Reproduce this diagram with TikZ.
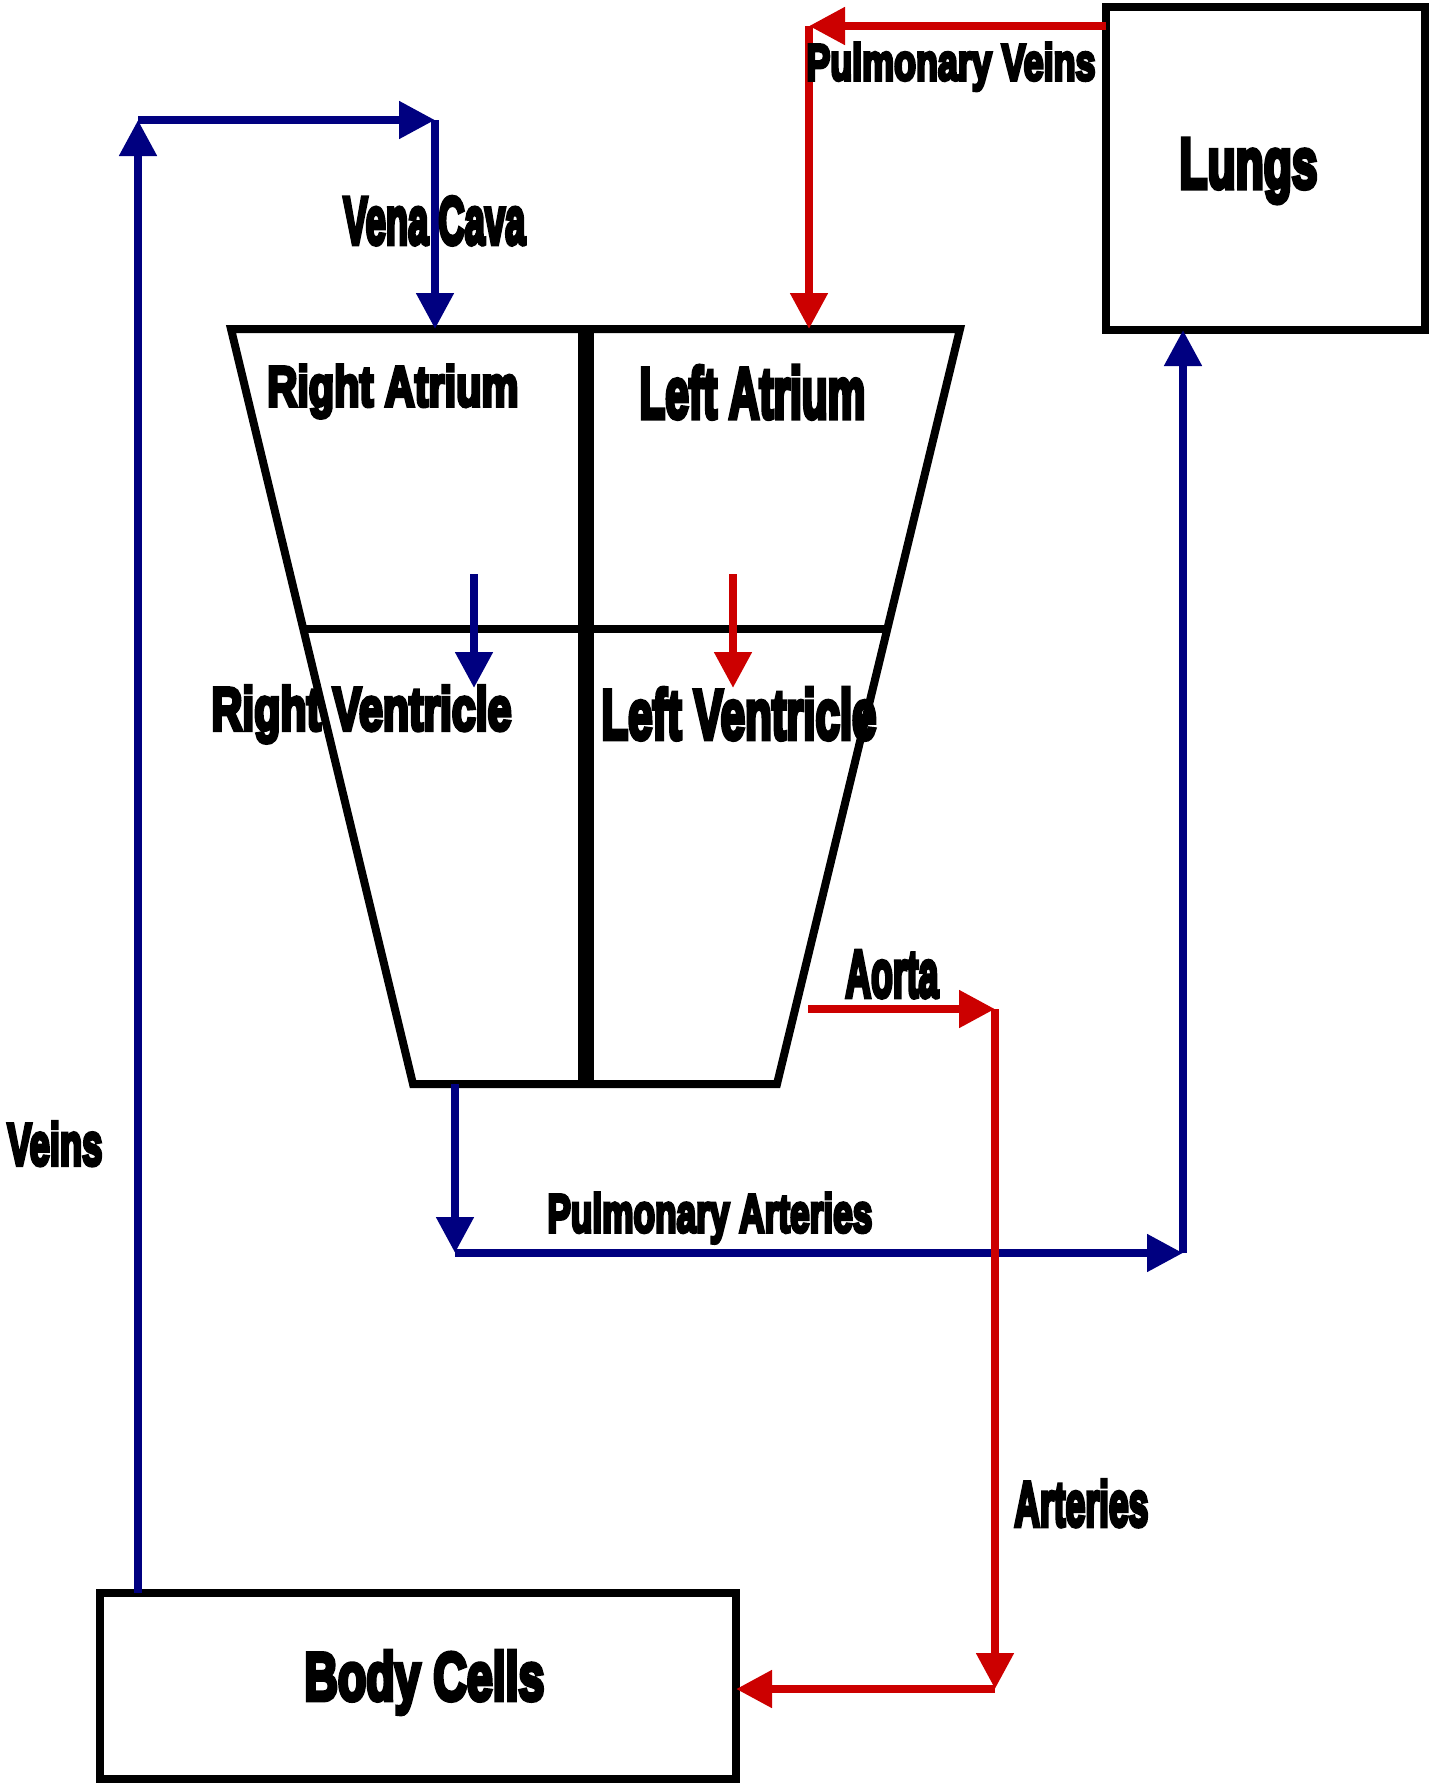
\documentclass[tikz,border=0pt]{standalone}
\usepackage{fontspec}
\setmainfont{Liberation Sans}[BoldFeatures={FakeBold=7}]
\usetikzlibrary{arrows.meta}
\definecolor{navyc}{RGB}{0,0,128}
\definecolor{redc}{RGB}{204,0,0}
\newcommand{\lbl}[3]{\resizebox{#1pt}{#2pt}{\bfseries #3}}
\tikzset{
  conn/.style={line width=4pt, -{Triangle[length=18pt,width=18pt]}},
  blueconn/.style={conn, draw=navyc, fill=navyc},
  redconn/.style={conn, draw=redc, fill=redc},
  box/.style={draw=black, line width=4pt, inner sep=0pt, outer sep=0pt, anchor=north west},
  lab/.style={inner sep=0pt, anchor=base west},
  heart/.style={draw=black, line width=4pt, line join=miter},
}
\begin{document}
\begin{tikzpicture}[x=0.5pt,y=-0.5pt]
\useasboundingbox (0,0) rectangle (1435,1783);
% boxes
\node[box, minimum width=159.5pt, minimum height=161.5pt] (lungs) at (1106,7) {};
\node[box, minimum width=318pt, minimum height=93pt] (body) at (100,1593) {};
% heart
\coordinate (TL) at (231,329);
\coordinate (TR) at (960,329);
\coordinate (BR) at (777,1084);
\coordinate (BL) at (413,1084);
\draw[heart] (TL) -- (TR) -- (BR) -- (BL) -- cycle;
\coordinate (septT) at (586,329);
\coordinate (septB) at (586,1084);
\draw[draw=black, line width=8pt] (septT) -- (septB);
\coordinate (divL) at (304,629);
\coordinate (divR) at (887,629);
\draw[draw=black, line width=4pt] (divL) -- (divR);
% bends
\coordinate (vc1) at (138,120);
\coordinate (vc2) at (435,120);
\coordinate (raT) at (435,329);
\coordinate (pv1) at (809,26);
\coordinate (laT) at (809,329);
\coordinate (rvA) at (474,574);
\coordinate (rvB) at (474,688);
\coordinate (lvA) at (733,574);
\coordinate (lvB) at (733,688);
\coordinate (ao0) at (808,1009);
\coordinate (ao1) at (995,1009);
\coordinate (ao2) at (995,1689);
\coordinate (pa0) at (455,1084);
\coordinate (pa1) at (455,1253);
\coordinate (pa2) at (1183,1253);
% blue connectors
\draw[blueconn] (body.north -| vc1) -- (vc1);
\draw[blueconn] (vc1) -- (vc2);
\draw[blueconn] (vc2) -- (raT);
\draw[blueconn] (rvA) -- (rvB);
\draw[blueconn] (pa0) -- (pa1);
\draw[blueconn] (pa1) -- (pa2);
\draw[blueconn] (pa2) -- (lungs.south -| pa2);
% red connectors
\draw[redconn] (lungs.west |- pv1) -- (pv1);
\draw[redconn] (pv1) -- (laT);
\draw[redconn] (lvA) -- (lvB);
\draw[redconn] (ao0) -- (ao1);
\draw[redconn] (ao1) -- (ao2);
\draw[redconn] (ao2) -- (body.east |- ao2);
% labels
\node[lab] (lVC) at (343,244) {\lbl{91}{23.5}{Vena Cava}};
\node[lab] (lPV) at (806,80) {\lbl{144.5}{18.5}{Pulmonary Veins}};
\node[lab] (lLu) at (1179,188) {\lbl{69}{24.5}{Lungs}};
\node[lab] (lRA) at (267,406) {\lbl{125.5}{20.5}{Right Atrium}};
\node[lab] (lLA) at (639,418) {\lbl{113}{26}{Left Atrium}};
\node[lab] (lRV) at (211,730) {\lbl{150}{22}{Right Ventricle}};
\node[lab] (lLV) at (601,739) {\lbl{137.5}{25.5}{Left Ventricle}};
\node[lab] (lAo) at (845,997) {\lbl{46.5}{23}{Aorta}};
\node[lab] (lVe) at (7,1165) {\lbl{47.5}{21.5}{Veins}};
\node[lab] (lPA) at (547,1232) {\lbl{162.5}{19.5}{Pulmonary Arteries}};
\node[lab] (lAr) at (1014,1526) {\lbl{67}{23}{Arteries}};
\node[lab] (lBC) at (304,1700) {\lbl{120}{24.5}{Body Cells}};
\end{tikzpicture}
\end{document}
